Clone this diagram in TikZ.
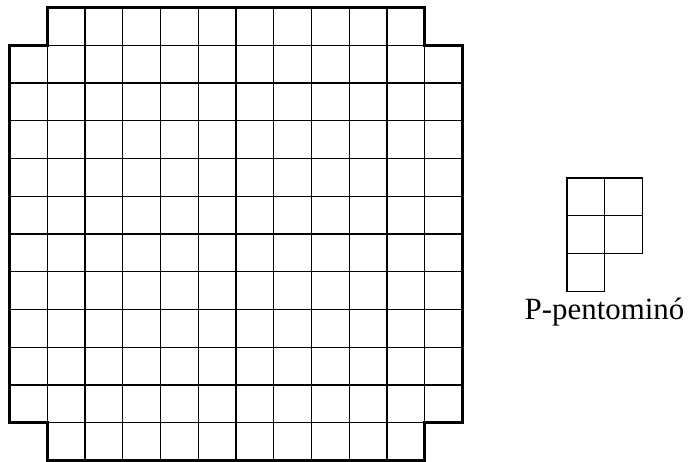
\documentclass[tikz,border=0pt]{standalone}
\usepackage{fontspec}
\setmainfont{Liberation Serif}
\begin{document}
\begin{tikzpicture}[x=1pt,y=-1pt,
  thin grid/.style={line width=1.2pt,black},
  thick border/.style={line width=3.4pt,black,line join=miter},
  label text/.style={font=\fontsize{30.9}{33}\selectfont,inner sep=0pt,anchor=base}]
\useasboundingbox (0,0) rectangle (691,461);
\def\c{37.75}
\def\xo{9.5}
\def\yo{7.5}
% interior grid lines
\foreach \i in {1,...,11} {
  \draw[thin grid] ({\xo+\i*\c},\yo) -- ({\xo+\i*\c},{\yo+12*\c});
  \draw[thin grid] (\xo,{\yo+\i*\c}) -- ({\xo+12*\c},{\yo+\i*\c});
}
% outer border with cut corners
\coordinate (b1) at ({\xo+\c},\yo);
\coordinate (b2) at ({\xo+11*\c},\yo);
\coordinate (b3) at ({\xo+11*\c},{\yo+\c});
\coordinate (b4) at ({\xo+12*\c},{\yo+\c});
\coordinate (b5) at ({\xo+12*\c},{\yo+11*\c});
\coordinate (b6) at ({\xo+11*\c},{\yo+11*\c});
\coordinate (b7) at ({\xo+11*\c},{\yo+12*\c});
\coordinate (b8) at ({\xo+\c},{\yo+12*\c});
\coordinate (b9) at ({\xo+\c},{\yo+11*\c});
\coordinate (b10) at (\xo,{\yo+11*\c});
\coordinate (b11) at (\xo,{\yo+\c});
\coordinate (b12) at ({\xo+\c},{\yo+\c});
\draw[thick border] (b1) -- (b2) -- (b3) -- (b4) -- (b5) -- (b6) -- (b7) -- (b8) -- (b9) -- (b10) -- (b11) -- (b12) -- cycle;
% P-pentomino
\def\px{567}
\def\py{178}
\foreach \a/\b in {0/0,1/0,0/1,1/1,0/2} {
  \draw[thin grid] ({\px+\a*\c},{\py+\b*\c}) rectangle ({\px+(\a+1)*\c},{\py+(\b+1)*\c});
}
\node[label text] (lbl) at (604.5,319) {P-pentominó};
\end{tikzpicture}
\end{document}
